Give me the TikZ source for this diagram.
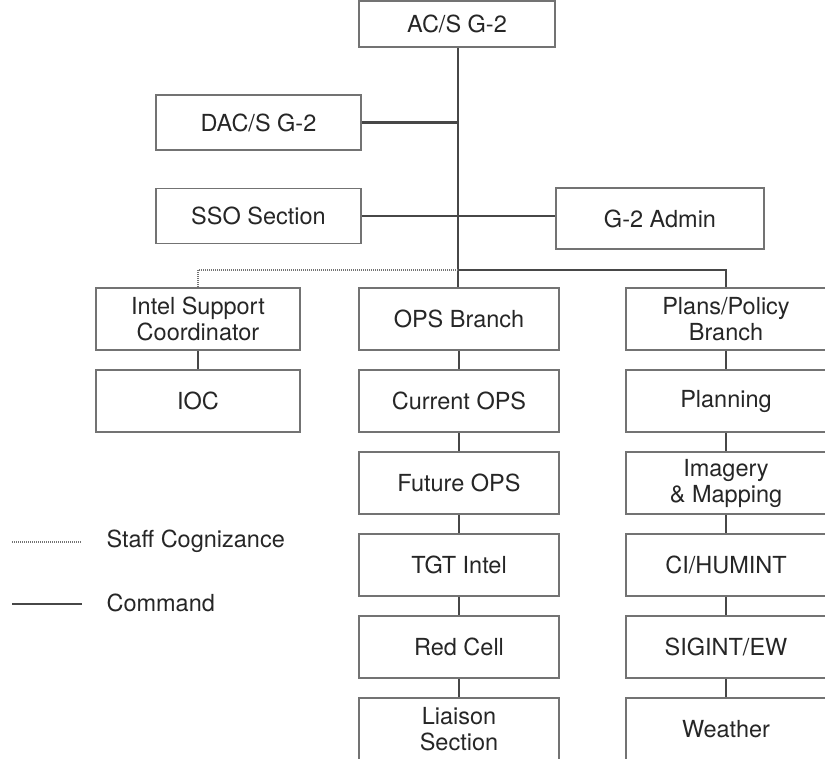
\documentclass[tikz,border=0pt]{standalone}
\usepackage{fontspec}
\setmainfont{TeX Gyre Heros}
\begin{document}
\begin{tikzpicture}[x=1pt,y=-1pt,
  box/.style={draw=black!55,line width=1.6pt,fill=white,align=center,inner sep=0pt,
    font=\fontsize{23.5}{26}\selectfont,text=black!85},
  cmd/.style={draw=black!72,line width=2.2pt},
  staff/.style={draw=black!55,line width=1.8pt,dash pattern=on 1pt off 1pt}]
\useasboundingbox (0,0) rectangle (825,759);
% top
\node[box,minimum width=196pt,minimum height=46pt] (acs) at (457,24) {AC/S G-2};
\node[box,minimum width=205pt,minimum height=55pt] (dacs) at (258.5,122.5) {DAC/S G-2};
\node[box,minimum width=205pt,minimum height=55pt] (sso) at (258.5,216) {SSO Section};
\node[box,minimum width=208pt,minimum height=61pt] (admin) at (660,218.5) {G-2 Admin};
% left column
\node[box,minimum width=204pt,minimum height=62pt] (isc) at (198,319) {Intel Support\\Coordinator};
\node[box,minimum width=204pt,minimum height=62pt] (ioc) at (198,401) {IOC};
% middle column
\node[box,minimum width=200pt,minimum height=62pt] (ops) at (459,319) {OPS Branch};
\node[box,minimum width=200pt,minimum height=62pt] (cur) at (459,401) {Current OPS};
\node[box,minimum width=200pt,minimum height=62pt] (fut) at (459,483) {Future OPS};
\node[box,minimum width=200pt,minimum height=62pt] (tgt) at (459,565) {TGT Intel};
\node[box,minimum width=200pt,minimum height=62pt] (red) at (459,647) {Red Cell};
\node[box,minimum width=200pt,minimum height=62pt] (lia) at (459,729) {Liaison\\Section};
% right column
\node[box,minimum width=200pt,minimum height=62pt] (pp) at (726,319) {Plans/Policy\\Branch};
\node[box,minimum width=200pt,minimum height=62pt] (plan) at (726,401) {Planning};
\node[box,minimum width=200pt,minimum height=62pt] (img) at (726,483) {Imagery\\\& Mapping};
\node[box,minimum width=200pt,minimum height=62pt] (ci) at (726,565) {CI/HUMINT};
\node[box,minimum width=200pt,minimum height=62pt] (sig) at (726,647) {SIGINT/EW};
\node[box,minimum width=200pt,minimum height=62pt] (wx) at (726,729) {Weather};
% connectors
\coordinate (j) at (458,270);
\draw[cmd] (acs.south -| j) -- (ops.north -| j);
\draw[cmd] (dacs.east) -- (dacs.east -| j);
\draw[cmd] (sso.east) -- (sso.east -| admin.west);
\draw[cmd] (j) -| (pp.north);
\draw[staff] (j) -| (isc.north);
\draw[cmd] (isc) -- (ioc);
\draw[cmd] (ops) -- (cur);
\draw[cmd] (cur) -- (fut);
\draw[cmd] (fut) -- (tgt);
\draw[cmd] (tgt) -- (red);
\draw[cmd] (red) -- (lia);
\draw[cmd] (pp) -- (plan);
\draw[cmd] (plan) -- (img);
\draw[cmd] (img) -- (ci);
\draw[cmd] (ci) -- (sig);
\draw[cmd] (sig) -- (wx);
% legend
\coordinate (l1a) at (12,542); \coordinate (l1b) at (82,542);
\coordinate (l2a) at (12,604); \coordinate (l2b) at (82,604);
\draw[staff,line width=1.2pt] (l1a) -- (l1b);
\draw[cmd] (l2a) -- (l2b);
\node[anchor=west,font=\fontsize{23.5}{26}\selectfont,text=black!85] (t1) at (103,541) {Staff Cognizance};
\node[anchor=west,font=\fontsize{23.5}{26}\selectfont,text=black!85] (t2) at (103,603) {Command};
\end{tikzpicture}
\end{document}
